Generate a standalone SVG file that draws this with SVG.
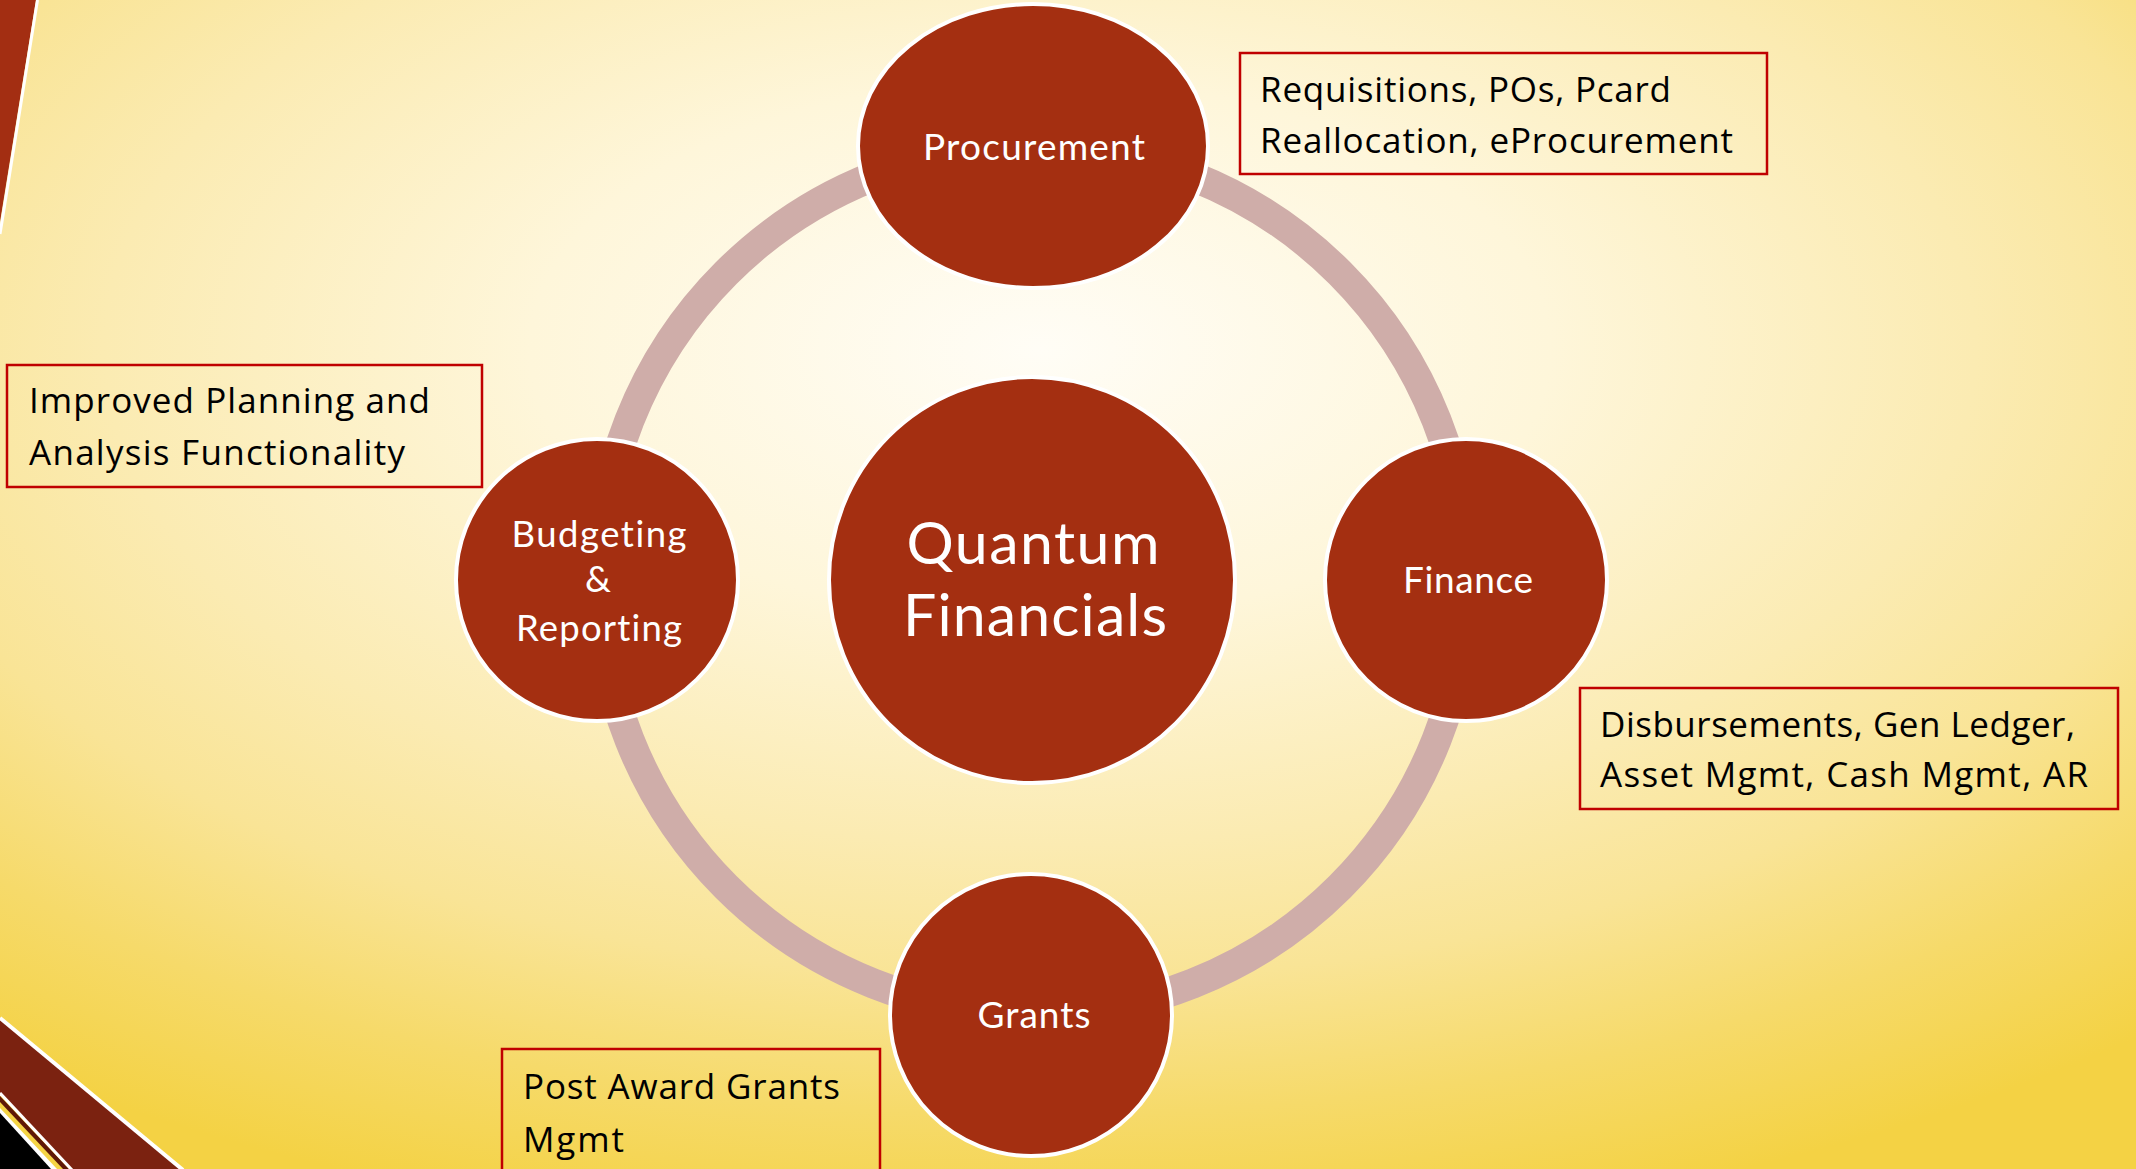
<svg xmlns="http://www.w3.org/2000/svg" width="2136" height="1169" viewBox="0 0 2136 1169">
  <style>
    .node { fill: #A42F11; stroke: #FFFFFF; stroke-width: 4; }
    .lbl { font-family: Lato, "Open Sans", "Liberation Sans", sans-serif; fill: #FFFFFF; text-anchor: middle; font-variant-ligatures: none; }
    .box { fill: none; stroke: #C00000; stroke-width: 2.5; }
    .btxt { font-family: "Open Sans", "Noto Sans", "Liberation Sans", sans-serif; fill: #000000; font-size: 35px; }
  </style>
  <defs>
    <radialGradient id="bg" gradientUnits="userSpaceOnUse" cx="0" cy="0" r="1" gradientTransform="translate(1040 350) scale(1700 900)">
      <stop offset="0" stop-color="#FFFDF6"/>
      <stop offset="0.3" stop-color="#FEF6DA"/>
      <stop offset="0.55" stop-color="#FBEBB2"/>
      <stop offset="0.7" stop-color="#F9E496"/>
      <stop offset="0.85" stop-color="#F6DA6A"/>
      <stop offset="1" stop-color="#F4D244"/>
    </radialGradient>
  </defs>

  <rect id="background" x="0" y="0" width="2136" height="1169" fill="url(#bg)"/>

  <g id="decor-top-left">
    <polygon points="0,0 36,0 0,222" fill="#A32E12"/>
    <line x1="37.5" y1="0" x2="0" y2="234" stroke="#FFFFFF" stroke-width="3"/>
  </g>
  <g id="decor-bottom-left">
    <polygon points="0,1018 182,1169 72,1169 0,1093" fill="#7B2210"/>
    <polygon points="0,1096 69,1169 0,1169" fill="#5E1808"/>
    <polygon points="0,1102 63,1169 0,1169" fill="#F5D445"/>
    <polygon points="0,1108 57,1169 0,1169" fill="#FFFFFF"/>
    <polygon points="0,1113 51,1169 0,1169" fill="#000000"/>
    <line x1="0" y1="1018" x2="183" y2="1170" stroke="#FFFFFF" stroke-width="4"/>
    <line x1="0" y1="1093" x2="72" y2="1170" stroke="#FFFFFF" stroke-width="3"/>
  </g>

  <g id="connectors">
    <circle cx="1033" cy="580" r="434" fill="none" stroke="#CFADA9" stroke-width="30"/>
  </g>

  <g id="node-center">
    <circle class="node" cx="1032" cy="580" r="203"/>
    <text class="lbl" x="1033" y="564" font-size="59" textLength="253">Quantum</text>
    <text class="lbl" x="1035" y="636" font-size="59" textLength="264">Financials</text>
  </g>

  <g id="node-procurement">
    <ellipse class="node" cx="1033" cy="146" rx="175" ry="142"/>
    <text class="lbl" x="1034" y="160" font-size="37" textLength="222">Procurement</text>
  </g>

  <g id="node-finance">
    <circle class="node" cx="1466" cy="580" r="141"/>
    <text class="lbl" x="1468" y="593" font-size="37" textLength="130">Finance</text>
  </g>

  <g id="node-grants">
    <circle class="node" cx="1031" cy="1015" r="141"/>
    <text class="lbl" x="1034" y="1028" font-size="37" textLength="113">Grants</text>
  </g>

  <g id="node-budgeting">
    <circle class="node" cx="597" cy="580" r="141"/>
    <text class="lbl" x="599" y="547" font-size="36.5" textLength="175">Budgeting</text>
    <text class="lbl" x="598" y="592" font-size="36.5">&amp;</text>
    <text class="lbl" x="599" y="641" font-size="36.5" textLength="166">Reporting</text>
  </g>

  <g id="note-procurement">
    <rect class="box" x="1240" y="53" width="527" height="121"/>
    <text class="btxt" x="1260" y="102" textLength="411">Requisitions, POs, Pcard</text>
    <text class="btxt" x="1260" y="153" textLength="473">Reallocation, eProcurement</text>
  </g>

  <g id="note-budgeting">
    <rect class="box" x="7" y="365" width="475" height="122"/>
    <text class="btxt" x="29" y="413" textLength="401">Improved Planning and</text>
    <text class="btxt" x="29" y="465" textLength="376">Analysis Functionality</text>
  </g>

  <g id="note-finance">
    <rect class="box" x="1580" y="688" width="538" height="121"/>
    <text class="btxt" x="1600" y="737" textLength="475">Disbursements, Gen Ledger,</text>
    <text class="btxt" x="1600" y="787" textLength="488">Asset Mgmt, Cash Mgmt, AR</text>
  </g>

  <g id="note-grants">
    <rect class="box" x="502" y="1049" width="378" height="140"/>
    <text class="btxt" x="523" y="1099" textLength="317">Post Award Grants</text>
    <text class="btxt" x="523" y="1152" textLength="101">Mgmt</text>
  </g>
</svg>
